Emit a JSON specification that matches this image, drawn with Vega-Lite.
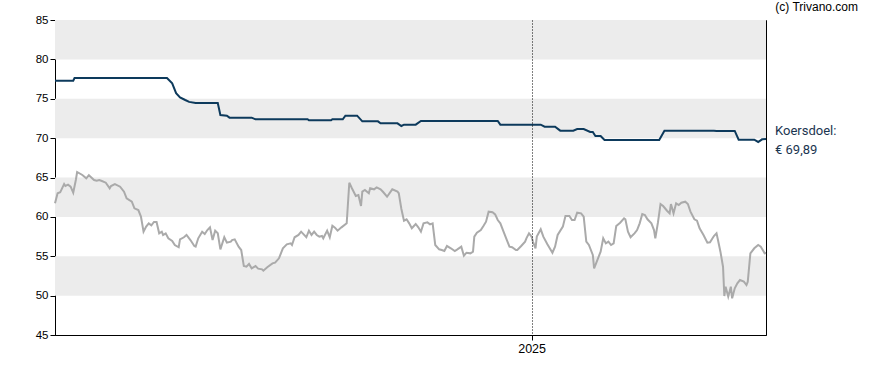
{
  "$schema": "https://vega.github.io/schema/vega-lite/v6.json",
  "width": 711,
  "height": 315,
  "autosize": {"type": "none"},
  "padding": {"left": 55, "top": 20, "right": 122, "bottom": 35},
  "background": "white",
  "title": {"text": "(c) Trivano.com", "anchor": "end", "frame": "group", "orient": "top", "offset": 0, "dx": 92, "fontSize": 12, "fontWeight": "normal", "font": "Liberation Sans Narrow, Liberation Sans, sans-serif", "color": "#000"},
  "config": {
    "view": {"stroke": "#000", "strokeWidth": 1},
    "axis": {"labelFont": "Liberation Sans Narrow, Liberation Sans, sans-serif", "labelFontSize": 11.5, "labelColor": "#000", "tickColor": "#000", "domainColor": "#000", "tickSize": 5, "labelPadding": 2, "title": null, "labelOverlap": false}
  },
  "datasets": {
    "bands": [{"v": 80, "v2": 85}, {"v": 70, "v2": 75}, {"v": 60, "v2": 65}, {"v": 50, "v2": 55}],
    "target": [
      {"t":"2024-001","v":77.3},{"t":"2024-015","v":77.3},{"t":"2024-016","v":77.63},{"t":"2024-083","v":77.63},{"t":"2024-087","v":77.63},
      {"t":"2024-091","v":76.96},{"t":"2024-094","v":75.7},{"t":"2024-097","v":75.18},{"t":"2024-101","v":74.84},{"t":"2024-104","v":74.6},
      {"t":"2024-109","v":74.46},{"t":"2024-126","v":74.46},{"t":"2024-128","v":72.94},{"t":"2024-133","v":72.85},{"t":"2024-135","v":72.6},
      {"t":"2024-152","v":72.6},{"t":"2024-155","v":72.39},{"t":"2024-195","v":72.39},{"t":"2024-196","v":72.26},{"t":"2024-213","v":72.26},
      {"t":"2024-214","v":72.39},{"t":"2024-222","v":72.39},{"t":"2024-224","v":72.85},{"t":"2024-233","v":72.85},{"t":"2024-237","v":72.13},
      {"t":"2024-249","v":72.13},{"t":"2024-251","v":71.88},{"t":"2024-264","v":71.88},{"t":"2024-267","v":71.54},{"t":"2024-269","v":71.71},
      {"t":"2024-278","v":71.71},{"t":"2024-282","v":72.17},{"t":"2024-341","v":72.17},{"t":"2024-343","v":71.71},{"t":"2025-008","v":71.71},
      {"t":"2025-011","v":71.46},{"t":"2025-019","v":71.46},{"t":"2025-023","v":70.95},{"t":"2025-033","v":70.95},{"t":"2025-036","v":71.16},
      {"t":"2025-041","v":71.16},{"t":"2025-046","v":70.78},{"t":"2025-048","v":70.78},{"t":"2025-050","v":70.27},{"t":"2025-054","v":70.27},
      {"t":"2025-057","v":69.76},{"t":"2025-099","v":69.76},{"t":"2025-103","v":70.95},{"t":"2025-141","v":70.95},{"t":"2025-143","v":70.91},
      {"t":"2025-157","v":70.91},{"t":"2025-160","v":69.8},{"t":"2025-172","v":69.8},{"t":"2025-175","v":69.51},{"t":"2025-178","v":69.85},
      {"t":"2025-181","v":69.89}
    ],
    "price": [
      {"t":"2024-001","v":61.72},{"t":"2024-003","v":63.0},{"t":"2024-005","v":63.12},{"t":"2024-008","v":64.17},{"t":"2024-009","v":63.92},
      {"t":"2024-011","v":64.09},{"t":"2024-013","v":63.83},{"t":"2024-015","v":63.07},{"t":"2024-017","v":64.68},{"t":"2024-018","v":65.7},
      {"t":"2024-022","v":65.32},{"t":"2024-025","v":64.9},{"t":"2024-027","v":65.28},{"t":"2024-031","v":64.68},{"t":"2024-033","v":64.59},
      {"t":"2024-035","v":64.68},{"t":"2024-037","v":64.56},{"t":"2024-040","v":64.34},{"t":"2024-043","v":63.63},{"t":"2024-044","v":63.92},
      {"t":"2024-047","v":64.17},{"t":"2024-051","v":63.83},{"t":"2024-054","v":63.2},{"t":"2024-056","v":62.36},{"t":"2024-060","v":61.93},
      {"t":"2024-062","v":61.09},{"t":"2024-065","v":60.87},{"t":"2024-067","v":60.03},{"t":"2024-069","v":58.12},{"t":"2024-071","v":58.76},
      {"t":"2024-073","v":59.18},{"t":"2024-075","v":58.93},{"t":"2024-077","v":59.35},{"t":"2024-079","v":59.35},{"t":"2024-081","v":57.91},
      {"t":"2024-083","v":58.12},{"t":"2024-084","v":57.7},{"t":"2024-086","v":57.91},{"t":"2024-088","v":57.28},{"t":"2024-091","v":56.94},
      {"t":"2024-093","v":56.43},{"t":"2024-096","v":56.14},{"t":"2024-097","v":57.15},{"t":"2024-100","v":57.41},{"t":"2024-102","v":57.7},
      {"t":"2024-105","v":57.06},{"t":"2024-108","v":56.3},{"t":"2024-109","v":56.22},{"t":"2024-111","v":57.28},{"t":"2024-114","v":58.12},
      {"t":"2024-116","v":57.83},{"t":"2024-118","v":58.33},{"t":"2024-120","v":58.67},{"t":"2024-122","v":57.06},{"t":"2024-124","v":58.25},
      {"t":"2024-126","v":57.91},{"t":"2024-128","v":55.88},{"t":"2024-131","v":57.41},{"t":"2024-133","v":56.73},{"t":"2024-136","v":56.86},
      {"t":"2024-137","v":57.06},{"t":"2024-139","v":57.15},{"t":"2024-142","v":56.22},{"t":"2024-144","v":55.79},{"t":"2024-146","v":53.76},
      {"t":"2024-148","v":53.67},{"t":"2024-150","v":54.02},{"t":"2024-152","v":53.47},{"t":"2024-155","v":53.76},{"t":"2024-157","v":53.43},
      {"t":"2024-160","v":53.34},{"t":"2024-161","v":53.17},{"t":"2024-164","v":53.6},{"t":"2024-168","v":54.1},{"t":"2024-170","v":54.19},
      {"t":"2024-173","v":54.74},{"t":"2024-176","v":56.01},{"t":"2024-179","v":56.52},{"t":"2024-182","v":56.64},{"t":"2024-183","v":56.43},
      {"t":"2024-185","v":57.41},{"t":"2024-188","v":57.7},{"t":"2024-190","v":58.12},{"t":"2024-194","v":57.41},{"t":"2024-196","v":58.25},
      {"t":"2024-198","v":57.7},{"t":"2024-200","v":58.12},{"t":"2024-202","v":57.7},{"t":"2024-204","v":57.49},{"t":"2024-206","v":57.57},
      {"t":"2024-207","v":57.28},{"t":"2024-210","v":58.25},{"t":"2024-212","v":57.41},{"t":"2024-214","v":58.88},{"t":"2024-216","v":58.63},
      {"t":"2024-218","v":58.25},{"t":"2024-221","v":58.67},{"t":"2024-225","v":59.18},{"t":"2024-227","v":64.34},{"t":"2024-229","v":63.63},
      {"t":"2024-232","v":62.65},{"t":"2024-234","v":62.78},{"t":"2024-236","v":61.38},{"t":"2024-237","v":63.2},{"t":"2024-239","v":63.41},
      {"t":"2024-242","v":63.0},{"t":"2024-243","v":63.63},{"t":"2024-246","v":63.5},{"t":"2024-248","v":63.75},{"t":"2024-251","v":63.5},
      {"t":"2024-253","v":63.16},{"t":"2024-256","v":62.56},{"t":"2024-260","v":63.5},{"t":"2024-264","v":63.2},{"t":"2024-265","v":63.0},
      {"t":"2024-267","v":61.0},{"t":"2024-269","v":59.52},{"t":"2024-271","v":59.69},{"t":"2024-273","v":59.18},{"t":"2024-275","v":58.55},
      {"t":"2024-278","v":59.1},{"t":"2024-280","v":58.67},{"t":"2024-282","v":58.12},{"t":"2024-284","v":59.18},{"t":"2024-287","v":59.3},
      {"t":"2024-289","v":59.05},{"t":"2024-291","v":59.18},{"t":"2024-293","v":56.43},{"t":"2024-296","v":55.88},{"t":"2024-298","v":55.79},
      {"t":"2024-300","v":55.67},{"t":"2024-302","v":56.3},{"t":"2024-305","v":56.01},{"t":"2024-308","v":55.67},{"t":"2024-310","v":55.88},
      {"t":"2024-313","v":56.22},{"t":"2024-315","v":55.07},{"t":"2024-317","v":55.45},{"t":"2024-320","v":55.37},{"t":"2024-322","v":55.58},
      {"t":"2024-323","v":57.49},{"t":"2024-325","v":57.99},{"t":"2024-328","v":58.33},{"t":"2024-330","v":58.84},{"t":"2024-332","v":59.39},
      {"t":"2024-334","v":60.66},{"t":"2024-337","v":60.58},{"t":"2024-339","v":60.32},{"t":"2024-341","v":59.6},{"t":"2024-343","v":59.18},
      {"t":"2024-345","v":58.33},{"t":"2024-348","v":57.06},{"t":"2024-350","v":56.22},{"t":"2024-352","v":56.14},{"t":"2024-355","v":55.79},
      {"t":"2024-356","v":55.79},{"t":"2024-359","v":56.3},{"t":"2024-362","v":56.86},{"t":"2024-363","v":57.28},{"t":"2024-365","v":57.91},
      {"t":"2025-001","v":57.49},{"t":"2025-002","v":56.86},{"t":"2025-004","v":56.01},{"t":"2025-005","v":57.49},{"t":"2025-008","v":58.42},
      {"t":"2025-010","v":57.49},{"t":"2025-013","v":56.56},{"t":"2025-017","v":55.45},{"t":"2025-019","v":56.22},{"t":"2025-021","v":57.7},
      {"t":"2025-025","v":58.76},{"t":"2025-027","v":60.11},{"t":"2025-030","v":60.11},{"t":"2025-032","v":59.6},{"t":"2025-034","v":59.6},
      {"t":"2025-036","v":60.53},{"t":"2025-039","v":60.45},{"t":"2025-041","v":60.03},{"t":"2025-043","v":56.86},{"t":"2025-045","v":56.43},
      {"t":"2025-048","v":55.16},{"t":"2025-049","v":53.47},{"t":"2025-052","v":54.74},{"t":"2025-054","v":55.58},{"t":"2025-056","v":57.28},
      {"t":"2025-058","v":56.64},{"t":"2025-060","v":56.86},{"t":"2025-062","v":56.43},{"t":"2025-064","v":56.64},{"t":"2025-066","v":58.84},
      {"t":"2025-069","v":59.26},{"t":"2025-072","v":59.82},{"t":"2025-073","v":59.69},{"t":"2025-075","v":58.12},{"t":"2025-077","v":57.41},
      {"t":"2025-080","v":57.91},{"t":"2025-082","v":58.33},{"t":"2025-084","v":59.18},{"t":"2025-086","v":60.36},{"t":"2025-088","v":60.24},
      {"t":"2025-090","v":59.69},{"t":"2025-093","v":59.18},{"t":"2025-095","v":58.33},{"t":"2025-096","v":57.28},{"t":"2025-098","v":59.26},
      {"t":"2025-100","v":61.63},{"t":"2025-102","v":61.38},{"t":"2025-105","v":60.78},{"t":"2025-107","v":60.45},{"t":"2025-108","v":61.63},
      {"t":"2025-110","v":60.45},{"t":"2025-112","v":61.72},{"t":"2025-114","v":61.51},{"t":"2025-116","v":61.8},{"t":"2025-119","v":61.93},
      {"t":"2025-121","v":61.63},{"t":"2025-123","v":60.66},{"t":"2025-126","v":59.69},{"t":"2025-128","v":59.52},{"t":"2025-130","v":58.55},
      {"t":"2025-133","v":57.7},{"t":"2025-136","v":56.73},{"t":"2025-138","v":56.77},{"t":"2025-141","v":57.57},{"t":"2025-143","v":57.91},
      {"t":"2025-144","v":57.15},{"t":"2025-146","v":55.58},{"t":"2025-148","v":53.67},{"t":"2025-149","v":49.95},{"t":"2025-150","v":51.13},
      {"t":"2025-152","v":49.87},{"t":"2025-154","v":51.13},{"t":"2025-155","v":49.66},{"t":"2025-157","v":50.93},{"t":"2025-159","v":51.56},
      {"t":"2025-161","v":51.98},{"t":"2025-164","v":51.77},{"t":"2025-166","v":51.35},{"t":"2025-167","v":51.77},{"t":"2025-169","v":55.37},
      {"t":"2025-172","v":56.01},{"t":"2025-175","v":56.43},{"t":"2025-177","v":56.22},{"t":"2025-180","v":55.37},{"t":"2025-181","v":55.4}
    ],
    "label": [{"t": "2025-181", "v": 69.89, "txt": ["Koersdoel:", "€ 69,89"]}]
  },
  "encoding": {
    "y": {"field": "v", "type": "quantitative", "scale": {"domain": [45, 85], "nice": false, "zero": false},
          "axis": {"values": [45, 50, 55, 60, 65, 70, 75, 80, 85], "tickCount": 9, "labelOverlap": false, "labelSeparation": 0, "grid": false}}
  },
  "layer": [
    {
      "data": {"name": "bands"},
      "mark": {"type": "rect", "color": "#ececec"},
      "encoding": {"y2": {"field": "v2"}}
    },
    {
      "data": {"name": "price", "format": {"parse": {"t": "date:'%Y-%j'"}}},
      "mark": {"type": "line", "color": "#aaaaaa", "strokeWidth": 2},
      "encoding": {
        "x": {"field": "t", "type": "temporal",
              "scale": {"domain": [{"year": 2024, "month": 1, "date": 1}, {"year": 2025, "month": 6, "date": 30}]},
              "axis": {"values": [{"year": 2025, "month": 1, "date": 1}], "format": "%Y", "grid": true, "gridDash": [1, 2], "gridColor": "#000", "gridOpacity": 1, "zindex": 1, "labelFontSize": 12.5}}
      }
    },
    {
      "data": {"name": "target", "format": {"parse": {"t": "date:'%Y-%j'"}}},
      "mark": {"type": "line", "color": "#0d3a5c", "strokeWidth": 2},
      "encoding": {"x": {"field": "t", "type": "temporal"}}
    },
    {
      "data": {"name": "label", "format": {"parse": {"t": "date:'%Y-%j'"}}},
      "mark": {"type": "text", "align": "left", "baseline": "middle", "dx": 9, "dy": -8, "lineHeight": 19, "fontSize": 13, "font": "Roboto", "fill": "#1b3550", "clip": false},
      "encoding": {
        "x": {"field": "t", "type": "temporal"},
        "text": {"field": "txt"}
      }
    }
  ]
}
